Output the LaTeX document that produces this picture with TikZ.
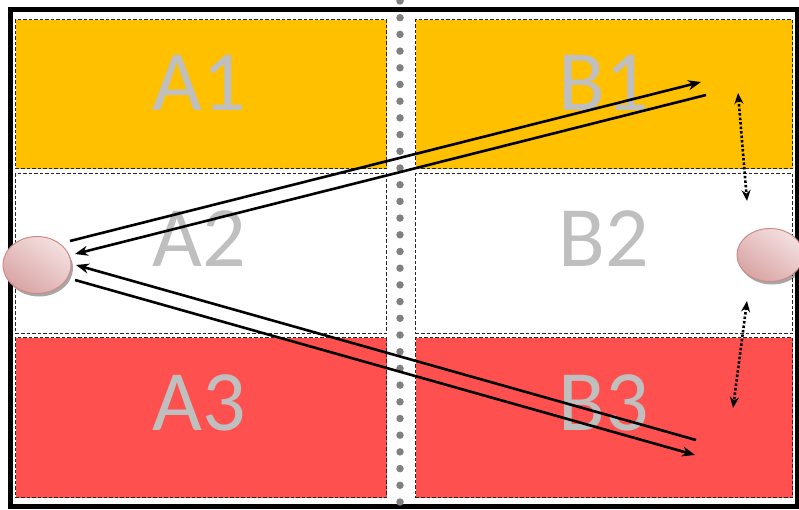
\documentclass[tikz,border=0pt]{standalone}
\usepackage{fontspec}
\newfontfamily\labfont{Carlito}
\usetikzlibrary{arrows.meta,shadows,shapes.geometric}
\definecolor{yel}{HTML}{FFC000}
\definecolor{redc}{HTML}{FF5050}
\definecolor{labgrey}{HTML}{BFBFBF}
\definecolor{dotgrey}{HTML}{808080}
\definecolor{pinkl}{HTML}{F4E0E0}
\definecolor{pinkd}{HTML}{D9A4A4}
\definecolor{pinkb}{HTML}{D08A88}
\tikzset{
  cell/.style={draw=black!85, dash pattern=on 3.5pt off 2pt, line width=1.1pt, inner sep=0pt, anchor=north west},
  lab/.style={text=labgrey, font=\labfont\fontsize{86}{86}\selectfont, anchor=base, inner sep=0pt},
  disc/.style={ellipse, draw=pinkb, line width=1pt, top color=pinkl, bottom color=pinkd, shading angle=-35,
    drop shadow={shadow xshift=2pt, shadow yshift=-3pt, opacity=0.35, fill=black}, minimum width=#1},
  flow/.style={line width=2.6pt, -{Stealth[length=13pt,width=10pt]}},
  dotarrow/.style={line width=2.6pt, dash pattern=on 2.5pt off 2pt, {Stealth[length=11pt,width=9pt]}-{Stealth[length=11pt,width=9pt]}},
}
\begin{document}
\begin{tikzpicture}[x=1pt,y=-1pt]
\useasboundingbox (0,0) rectangle (799,510);
\begin{scope}
\clip (0,0) rectangle (799,510);
% outer frame
\draw[line width=5pt] (10,10) rectangle (797,506);
% dotted separator
\draw[dotgrey, line width=7.5pt, line cap=round, dash pattern=on 0pt off 16.7pt] (400,1) -- (400,510);
% cells
\node[cell, fill=yel, minimum width=371pt, minimum height=149pt] (A1) at (15,19) {};
\node[cell, fill=white, minimum width=371pt, minimum height=160pt] (A2) at (15,173) {};
\node[cell, fill=redc, minimum width=371pt, minimum height=160pt] (A3) at (15,337) {};
\node[cell, fill=yel, minimum width=377pt, minimum height=149pt] (B1) at (415,19) {};
\node[cell, fill=white, minimum width=377pt, minimum height=160pt] (B2) at (415,173) {};
\node[cell, fill=redc, minimum width=377pt, minimum height=160pt] (B3) at (415,337) {};
% labels
\node[lab] (tA1) at (199,111) {A1};
\node[lab] (tA2) at (199,266) {A2};
\node[lab] (tA3) at (199,430) {A3};
\node[lab] (tB1) at (604,111) {B1};
\node[lab] (tB2) at (604,266) {B2};
\node[lab] (tB3) at (604,430) {B3};
% discs
\node[disc=68pt, minimum height=57pt] (L) at (37,265) {};
\node[disc=66pt, minimum height=53pt] (R) at (770,255) {};
% coordinates
\coordinate (l1) at (70,241);
\coordinate (l2) at (75,254);
\coordinate (l3) at (76,265);
\coordinate (l4) at (75,280);
\coordinate (b1a) at (701,82);
\coordinate (b1b) at (706,95);
\coordinate (b3a) at (696,440);
\coordinate (b3b) at (695,455);
\coordinate (d1a) at (738,93);
\coordinate (d1b) at (747,201);
\coordinate (d2a) at (747,301);
\coordinate (d2b) at (733,408);
% arrows
\draw[flow] (l1) -- (b1a);
\draw[flow] (b1b) -- (l2);
\draw[flow] (b3a) -- (l3);
\draw[flow] (l4) -- (b3b);
\draw[dotarrow] (d1a) -- (d1b);
\draw[dotarrow] (d2a) -- (d2b);
\end{scope}
\end{tikzpicture}
\end{document}
